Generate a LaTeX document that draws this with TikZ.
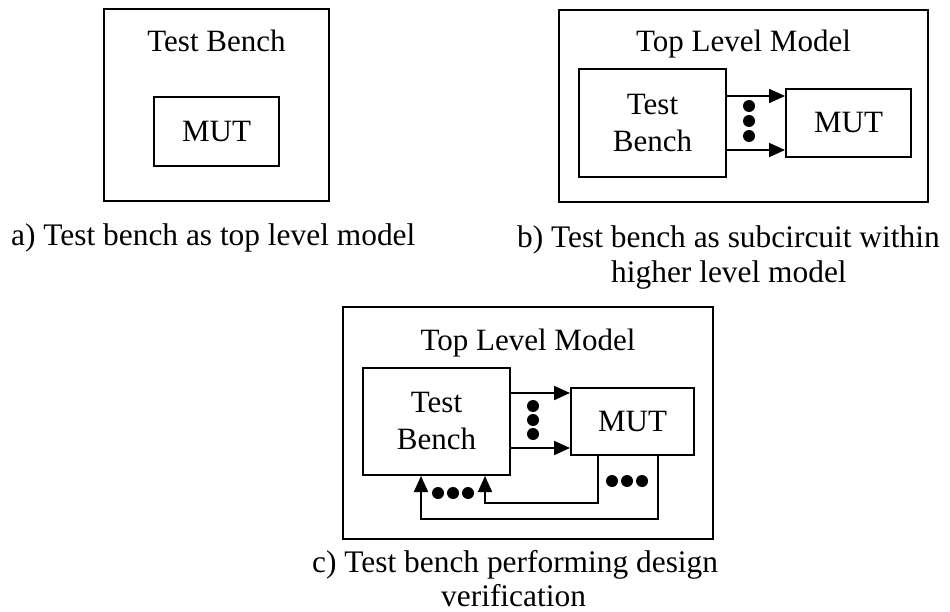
\documentclass[tikz,border=0pt]{standalone}
\usepackage{fontspec}
\setmainfont{Liberation Serif}
\usetikzlibrary{arrows.meta}
\begin{document}
\begin{tikzpicture}[x=1pt,y=-1pt,
  box/.style={draw, line width=2pt, inner sep=0pt, font=\fontsize{31}{37}\selectfont, align=center},
  txt/.style={inner sep=0pt, font=\fontsize{31}{36}\selectfont},
  captext/.style={inner sep=0pt, font=\fontsize{31.4}{36}\selectfont},
  arr/.style={line width=2pt, -{Triangle[length=16pt,width=14pt]}},
  dot/.style={circle, fill, inner sep=0pt, minimum size=12pt}]
\useasboundingbox (0,0) rectangle (950,612);
% ---- a)
\node[box, minimum width=225pt, minimum height=192pt] (outA) at (216.5,105) {};
\node[txt, anchor=base] (tbA) at (216.5,52) {Test Bench};
\node[box, minimum width=125pt, minimum height=69pt] (mutA) at (216.5,131.5) {MUT};
% ---- b)
\node[box, minimum width=369pt, minimum height=192pt] (outB) at (743.5,106) {};
\node[txt, anchor=base] (topB) at (743.5,52) {Top Level Model};
\node[box, minimum width=147pt, minimum height=108pt] (tbB) at (652.5,123) {Test\\Bench};
\node[box, minimum width=125pt, minimum height=68pt] (mutB) at (848.5,123) {MUT};
\coordinate (b1) at (0,96);
\coordinate (b2) at (0,150);
\draw[arr] (tbB.east |- b1) -- (mutB.west |- b1);
\draw[arr] (tbB.east |- b2) -- (mutB.west |- b2);
\node[dot] (bd1) at (749,106) {};
\node[dot] (bd2) at (749,121) {};
\node[dot] (bd3) at (749,136) {};
% ---- c)
\node[box, minimum width=370pt, minimum height=232pt] (outC) at (528,423) {};
\node[txt, anchor=base] (topC) at (528,350) {Top Level Model};
\node[box, minimum width=147pt, minimum height=107pt] (tbC) at (436.5,421.5) {Test\\Bench};
\node[box, minimum width=123pt, minimum height=67pt] (mutC) at (632.5,421.5) {MUT};
\coordinate (c1) at (0,393);
\coordinate (c2) at (0,448);
\draw[arr] (tbC.east |- c1) -- (mutC.west |- c1);
\draw[arr] (tbC.east |- c2) -- (mutC.west |- c2);
\node[dot] (cd1) at (533,406) {};
\node[dot] (cd2) at (533,420) {};
\node[dot] (cd3) at (533,434) {};
\coordinate (f1) at (598,503);
\coordinate (f2) at (485,503);
\coordinate (g1) at (658,519);
\coordinate (g2) at (421,519);
\draw[arr] (mutC.south -| f1) -- (f1) -- (f2) -- (tbC.south -| f2);
\draw[arr] (mutC.south -| g1) -- (g1) -- (g2) -- (tbC.south -| g2);
\node[dot] (ld1) at (438,493) {};
\node[dot] (ld2) at (453,493) {};
\node[dot] (ld3) at (468,493) {};
\node[dot] (rd1) at (612,481) {};
\node[dot] (rd2) at (627,481) {};
\node[dot] (rd3) at (642,481) {};
% ---- captions
\node[captext, anchor=base west] (capA) at (11,246) {a) Test bench as top level model};
\node[captext, anchor=base west] (capB1) at (517,248) {b) Test bench as subcircuit within};
\node[captext, anchor=base west] (capB2) at (611,283) {higher level model};
\node[captext, anchor=base west] (capC1) at (312,572) {c) Test bench performing design};
\node[captext, anchor=base west] (capC2) at (441,606) {verification};
\end{tikzpicture}
\end{document}
